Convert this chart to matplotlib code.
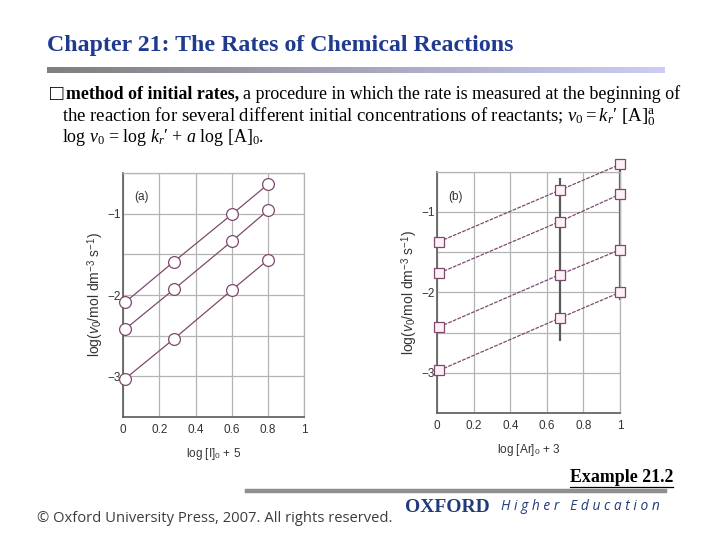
import numpy as np
import matplotlib
matplotlib.use("Agg")
import matplotlib.pyplot as plt
from matplotlib.ticker import FixedLocator

plt.rcParams["mathtext.fontset"] = "custom"
plt.rcParams["mathtext.rm"] = "Liberation Serif"
plt.rcParams["mathtext.it"] = "Liberation Serif:italic"
plt.rcParams["mathtext.bf"] = "Liberation Serif:bold"
plt.rcParams["mathtext.sf"] = "Liberation Sans:italic"
plt.rcParams["mathtext.tt"] = "Liberation Sans"

# panel (a): log v0 against log [I]0 + 5, three series
a_x = [0.01, 0.28, 0.60, 0.80]
a_y1 = [-2.09, -1.59, -1.01, -0.64]
a_y2 = [-2.42, -1.93, -1.34, -0.96]
a_y3 = [-3.03, -2.54, -1.94, -1.57]

# panel (b): log v0 against log [Ar]0 + 3, four series
b_x = [0.01, 0.67, 1.00]
b_y1 = [-1.37, -0.73, -0.41]
b_y2 = [-1.76, -1.12, -0.78]
b_y3 = [-2.43, -1.78, -1.47]
b_y4 = [-2.97, -2.32, -2.00]
# dark vertical bars through the points at x = 0.67 and 1
b_bar_x = [0.67, 1.00]
b_bar_top = [-0.58, -0.41]
b_bar_bottom = [-2.61, -2.09]

x_ticks = [0, 0.2, 0.4, 0.6, 0.8, 1]
x_ticklabels = ["0", "0.2", "0.4", "0.6", "0.8", "1"]
y_ticks = [-3, -2, -1]

LINE = "#7d4a6e"
GRID = "#b4b4b4"
AXIS = "#5a5a5a"
BLUE = "#1f3a8f"

W, H = 720, 540
fig = plt.figure(figsize=(7.2, 5.4), dpi=100)
renderer = fig.canvas.get_renderer()


def fx(px):
    return px / W


def fy(py):
    return 1 - py / H


# title and gradient rule
fig.text(fx(47), fy(45), "Chapter 21: The Rates of Chemical Reactions",
         family="Liberation Serif", weight="bold", fontsize=17.2, color=BLUE,
         va="center", ha="left")
bar = fig.add_axes([fx(47), fy(73), fx(665 - 47), 6 / H])
grad = np.linspace(0, 1, 256)
c0, c1 = np.array([0.50, 0.50, 0.50]), np.array([0.80, 0.80, 0.96])
bar.imshow((c0[None, :] + grad[:, None] * (c1 - c0))[None, :, :], aspect="auto")
bar.axis("off")

# body text
body = dict(family="Liberation Serif", fontsize=12.9, color="black", va="center", ha="left")
fig.text(fx(50), fy(95), "\u25a1", **{**body, "fontsize": 16,
                                       "family": ["Liberation Serif", "DejaVu Sans"]})
t_bold = fig.text(fx(66), fy(94), "method of initial rates,", weight="bold", **body)
x_end = t_bold.get_window_extent(renderer).x1
fig.text((x_end + 4) / W, fy(94),
         "a procedure in which the rate is measured at the beginning of", **body)
fig.text(fx(62), fy(117),
         "the reaction for several different initial concentrations of reactants; "
         "$v_0 = k_r$\u2032 $[\\mathrm{A}]_0^{\\mathrm{a}}$", **{**body, "fontsize": 13.5})
fig.text(fx(62), fy(138),
         "log $v_0$ = log $k_r$\u2032 + $a$ log [A]$_0$.", **body)


def style(ax):
    ax.set_xlim(0, 1)
    ax.set_ylim(-3.5, -0.5)
    ax.xaxis.set_major_locator(FixedLocator(x_ticks))
    ax.set_xticklabels(x_ticklabels)
    ax.yaxis.set_major_locator(FixedLocator(y_ticks))
    ax.yaxis.set_minor_locator(FixedLocator([-3.5, -2.5, -1.5, -0.5]))
    ax.grid(True, which="both", color=GRID, lw=0.9)
    ax.set_axisbelow(True)
    ax.tick_params(which="both", length=0, labelsize=8.5, labelcolor="#333333", pad=5)
    ax.tick_params(axis="y", pad=2)
    for s in ("top", "right"):
        ax.spines[s].set_color(GRID)
        ax.spines[s].set_linewidth(0.9)
    for s in ("left", "bottom"):
        ax.spines[s].set_color(AXIS)
        ax.spines[s].set_linewidth(1.2)
    for lab in ax.get_xticklabels() + ax.get_yticklabels():
        lab.set_family("Liberation Sans")


ylab = r"log($\mathsf{v}_\mathtt{0}$/mol dm$^{\mathtt{-3}}$ s$^{\mathtt{-1}}$)"
lab_kw = dict(family="Liberation Sans", color="#333333")

# panel (a)
ax_a = fig.add_axes([fx(123.3), fy(417), fx(304 - 123.3), (417 - 173) / H])
style(ax_a)
for ys in (a_y1, a_y2, a_y3):
    ax_a.plot(a_x, ys, color=LINE, lw=0.9, marker="o", ms=8.5, mfc="white",
              mec=LINE, mew=0.9, clip_on=False, zorder=3)
ax_a.text(0.1, -0.8, "(a)", fontsize=8.5, ha="center", va="center", **lab_kw)
ax_a.set_xlabel(r"log [I]$_\mathtt{0}$ + 5", fontsize=8.5, labelpad=7, **lab_kw)
ax_a.set_ylabel(ylab, fontsize=10, labelpad=1, **lab_kw)

# panel (b)
ax_b = fig.add_axes([fx(437.3), fy(413), fx(620 - 437.3), (413 - 171.7) / H])
style(ax_b)
ax_b.vlines(b_bar_x, b_bar_bottom, b_bar_top, color=AXIS, lw=1.6, zorder=2.5,
            clip_on=False)
for ys in (b_y1, b_y2, b_y3, b_y4):
    ax_b.plot(b_x, ys, color=LINE, lw=0.9, ls=(0, (3, 1)), marker="s", ms=7.5,
              mfc="#fdf0f6", mec=LINE, mew=0.9, clip_on=False, zorder=3)
ax_b.text(0.097, -0.81, "(b)", fontsize=8.5, ha="center", va="center", **lab_kw)
ax_b.set_xlabel(r"log [Ar]$_\mathtt{0}$ + 3", fontsize=8.5, labelpad=7, **lab_kw)
ax_b.set_ylabel(ylab, fontsize=10, labelpad=1, **lab_kw)

# footer
fig.text(fx(570), fy(477), "Example 21.2", family="Liberation Serif", weight="bold",
         fontsize=12.9, color="black", va="center", ha="left")
fig.add_artist(plt.Line2D([fx(570), fx(673)], [fy(486.5), fy(486.5)], color="black", lw=0.9))
fig.add_artist(plt.Line2D([fx(247), fx(665)], [fy(491), fy(491)], color="#8f8f8f", lw=3.2))
fig.text(fx(37), fy(519), "\u00a9 Oxford University Press, 2007. All rights reserved.",
         family="Open Sans", fontsize=10.6, color="#3c3c3c", va="center", ha="left")
fig.text(fx(405), fy(507), "OXFORD", family="Liberation Serif", weight="bold",
         fontsize=14, color="#22397a", va="center", ha="left")
fig.text(fx(501), fy(507), "H i g h e r   E d u c a t i o n", family="Open Sans",
         style="italic", fontsize=9.9, color="#22397a", va="center", ha="left")

fig.savefig("out.png", dpi=100)
